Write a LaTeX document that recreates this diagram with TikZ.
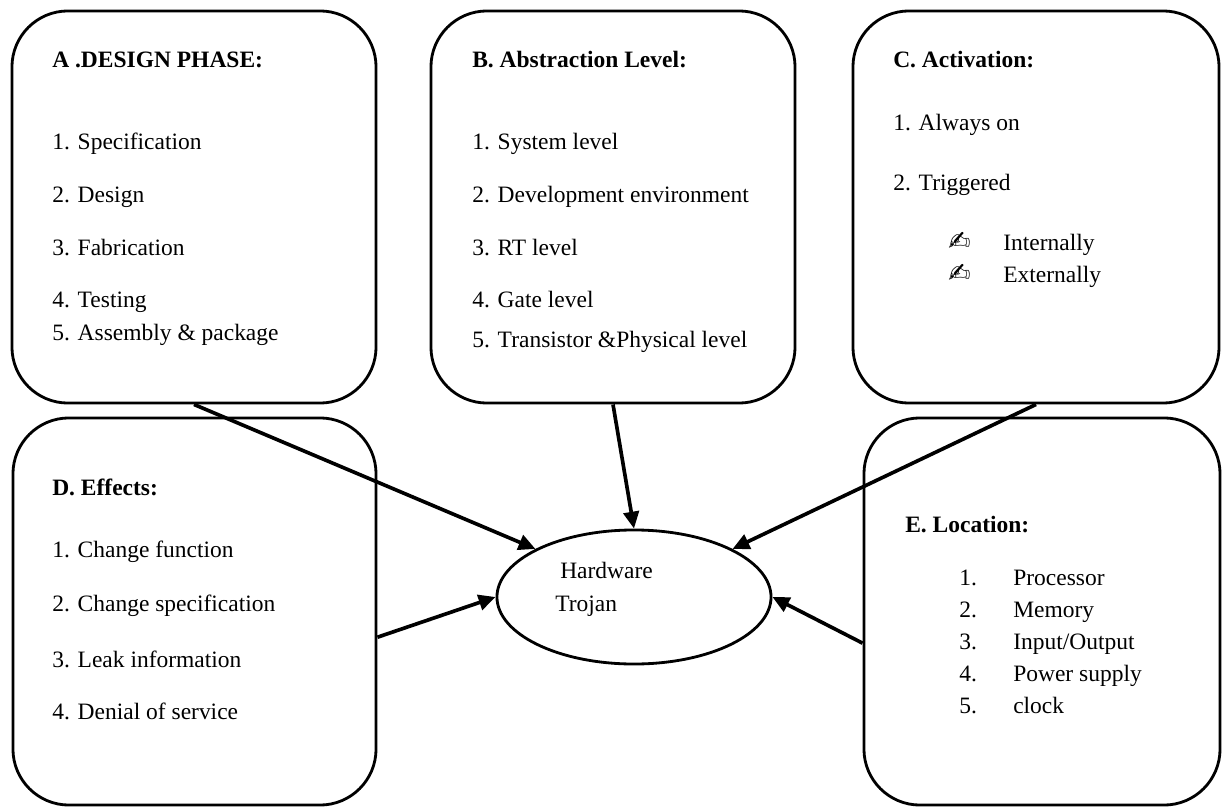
\documentclass[tikz,border=0pt]{standalone}
\usepackage{fontspec}
\setmainfont{Liberation Serif}
\newfontfamily\symfont{DejaVu Sans}
\usetikzlibrary{arrows.meta,positioning,shapes.geometric}

\begin{document}
\begin{tikzpicture}[
    x=0.025cm, y=-0.025cm,
    font=\fontsize{16.7}{20}\selectfont,
    panel/.style={draw, line width=2pt, rounded corners=1.4cm},
    head/.style={anchor=base west, inner sep=0pt, font=\fontsize{16.7}{20}\selectfont\bfseries},
    item/.style={anchor=base west, inner sep=0pt},
    flow/.style={-{Triangle[length=12pt,width=11pt]}, line width=2.6pt}
]
\useasboundingbox (0,0) rectangle (1225,808);
% the five panels and the centre
\node[panel, minimum width=9.1cm, minimum height=9.8cm] (design) at (194,207) {};
\node[panel, minimum width=9.1cm, minimum height=9.8cm] (abstraction) at (613,207) {};
\node[panel, minimum width=9.15cm, minimum height=9.8cm] (activation) at (1036,207) {};
\node[panel, minimum width=9.075cm, minimum height=9.675cm] (effects) at (194.5,611.5) {};
\node[panel, minimum width=8.9cm, minimum height=9.675cm] (location) at (1042,611.5) {};
\node[draw, ellipse, line width=2pt, minimum width=6.85cm, minimum height=3.35cm] (trojan) at (634,597) {};
\node[item] (hw) at (560,578) {Hardware};
\node[item] (tj) at (555,611) {Trojan};
% A
\node[head] (designhd) at (52,68) {A .DESIGN PHASE:};
\foreach \y/\t [count=\i] in {149/Specification, 202/Design, 255/Fabrication, 307/Testing, 340/Assembly \& package}
    \node[item] (design\i) at (52,\y) {\i. \t};
% B
\node[head] (abstractionhd) at (472,68) {B. Abstraction Level:};
\foreach \y/\t [count=\i] in {149/System level, 202/Development environment, 255/RT level, 307/Gate level, 347/Transistor \&Physical level}
    \node[item] (abstraction\i) at (472,\y) {\i. \t};
% C
\node[head] (activationhd) at (893,68) {C. Activation:};
\node[item] (activation1) at (893,131) {1. Always on};
\node[item] (activation2) at (893,190) {2. Triggered};
\foreach \y/\t [count=\i] in {250/Internally, 282/Externally} {
    \node[item, font=\symfont\fontsize{19}{19}\selectfont] (pen\i) at (948,\y) {\char"270D};
    \node[item] (trig\i) at (1003,\y) {\t};
}
% D
\node[head] (effectshd) at (52,495) {D. Effects:};
\foreach \y/\t [count=\i] in {557/Change function, 611/Change specification, 667/Leak information, 719/Denial of service}
    \node[item] (effects\i) at (52,\y) {\i. \t};
% E
\node[head] (locationhd) at (905,532) {E. Location:};
\foreach \y/\t [count=\i] in {585/Processor, 617/Memory, 649/{Input/Output}, 681/Power supply, 713/clock} {
    \node[item] (locnum\i) at (959,\y) {\i.};
    \node[item] (location\i) at (1013,\y) {\t};
}
% arrows into the centre
\draw[flow] (design.south) -- (trojan.154);
\draw[flow] (abstraction.south) -- (trojan.north);
\draw[flow] (activation.south) -- (trojan.26);
\draw[flow] (effects.-8) -- (trojan.west);
\draw[flow] (location.190) -- (trojan.east);
\end{tikzpicture}
\end{document}
